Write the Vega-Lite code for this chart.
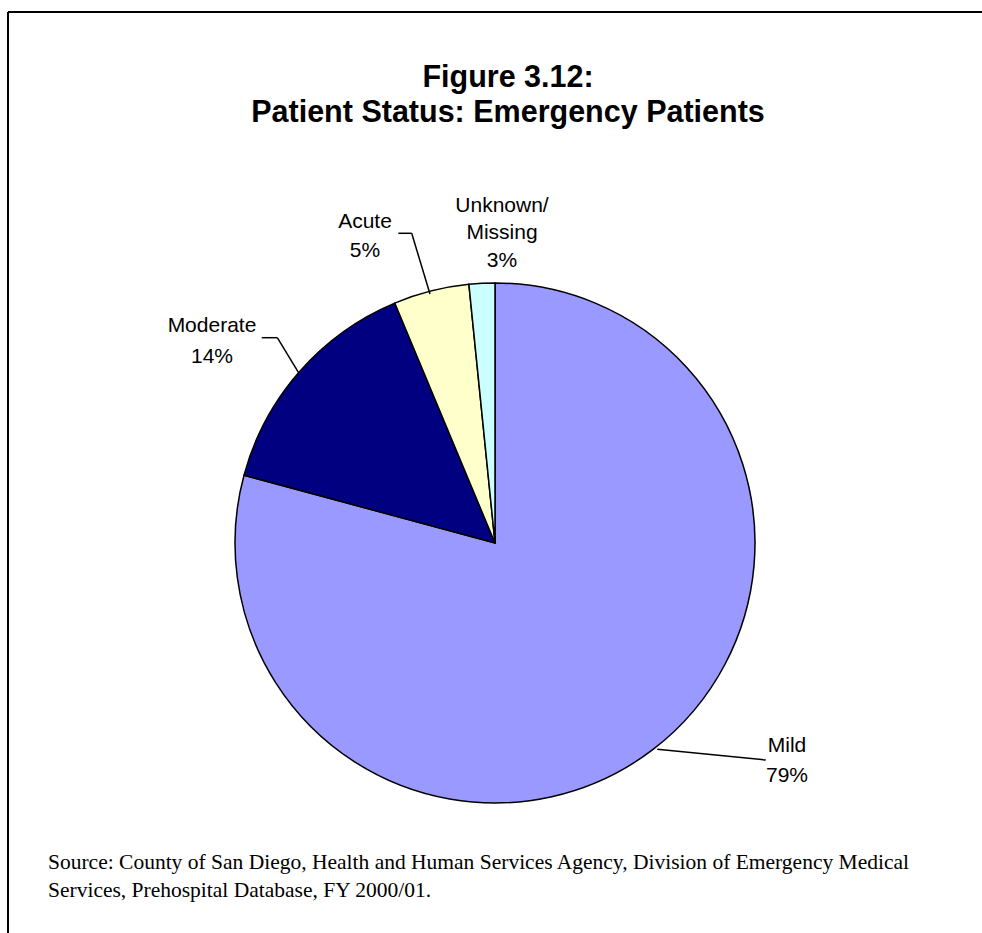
{
  "$schema": "https://vega.github.io/schema/vega-lite/v6.json",
  "width": 974,
  "height": 921,
  "autosize": {"type": "none"},
  "padding": {"left": 8, "top": 12, "right": 0, "bottom": 0},
  "background": "white",
  "view": {"stroke": null},
  "title": {
    "text": ["Figure 3.12:", "Patient Status: Emergency Patients"],
    "font": "Liberation Sans",
    "fontSize": 30.5,
    "fontWeight": "bold",
    "lineHeight": 35,
    "color": "black",
    "anchor": "middle",
    "dx": 13,
    "dy": 121
  },
  "data": {"values": [{}]},
  "datasets": {
    "slices": [
      {"status": "Mild", "value": 79.2, "label": "Mild\n79%"},
      {"status": "Moderate", "value": 14.5, "label": "Moderate\n14%"},
      {"status": "Acute", "value": 4.7, "label": "Acute\n5%"},
      {"status": "Unknown/Missing", "value": 1.6, "label": "Unknown/\nMissing\n3%"}
    ]
  },
  "layer": [
    {
      "data": {"name": "slices"},
      "transform": [
        {"calculate": "indexof(['Mild','Moderate','Acute','Unknown/Missing'], datum.status)", "as": "idx"}
      ],
      "mark": {"type": "arc", "outerRadius": 260, "stroke": "black", "strokeWidth": 1.5},
      "encoding": {
        "x": {"datum": 0, "type": "quantitative", "scale": {"domain": [-1.873077, 1.873077], "nice": false, "zero": false}, "axis": null},
        "y": {"datum": 0, "type": "quantitative", "scale": {"domain": [-1.5, 2.042308], "nice": false, "zero": false}, "axis": null},
        "theta": {"field": "value", "type": "quantitative", "stack": true},
        "order": {"field": "idx", "type": "quantitative"},
        "color": {
          "field": "status",
          "type": "nominal",
          "scale": {"domain": ["Mild", "Moderate", "Acute", "Unknown/Missing"], "range": ["#9999FF", "#000080", "#FFFFCC", "#CCFFFF"]},
          "legend": null
        }
      }
    },
    {
      "mark": {"type": "rule", "color": "black", "strokeWidth": 2},
      "encoding": {"y": {"datum": 2.042308, "type": "quantitative"}}
    },
    {
      "mark": {"type": "rule", "color": "black", "strokeWidth": 2},
      "encoding": {"x": {"datum": -1.873077, "type": "quantitative"}}
    },
    {
      "mark": {"type": "rule", "color": "black", "strokeWidth": 1.5},
      "encoding": {"x": {"datum": 0.6242, "type": "quantitative"}, "y": {"datum": -0.7935, "type": "quantitative"}, "x2": {"datum": 1.0412}, "y2": {"datum": -0.8346}}
    },
    {
      "mark": {"type": "rule", "color": "black", "strokeWidth": 1.5},
      "encoding": {"x": {"datum": -0.7538, "type": "quantitative"}, "y": {"datum": 0.6527, "type": "quantitative"}, "x2": {"datum": -0.8373}, "y2": {"datum": 0.7896}}
    },
    {
      "mark": {"type": "rule", "color": "black", "strokeWidth": 1.5},
      "encoding": {"x": {"datum": -0.8373, "type": "quantitative"}, "y": {"datum": 0.7896, "type": "quantitative"}, "x2": {"datum": -0.8973}, "y2": {"datum": 0.7896}}
    },
    {
      "mark": {"type": "rule", "color": "black", "strokeWidth": 1.5},
      "encoding": {"x": {"datum": -0.25, "type": "quantitative"}, "y": {"datum": 0.9577, "type": "quantitative"}, "x2": {"datum": -0.3204}, "y2": {"datum": 1.1912}}
    },
    {
      "mark": {"type": "rule", "color": "black", "strokeWidth": 1.5},
      "encoding": {"x": {"datum": -0.3204, "type": "quantitative"}, "y": {"datum": 1.1912, "type": "quantitative"}, "x2": {"datum": -0.3719}, "y2": {"datum": 1.1912}}
    },
    {
      "data": {"name": "slices"},
      "transform": [{"filter": "datum.status === 'Mild'"}],
      "mark": {"type": "text", "font": "Liberation Sans", "fontSize": 21, "lineHeight": 30, "lineBreak": "\n", "align": "center", "baseline": "alphabetic", "color": "black"},
      "encoding": {"x": {"datum": 1.1231, "type": "quantitative"}, "y": {"datum": -0.8027, "type": "quantitative"}, "text": {"field": "label"}}
    },
    {
      "data": {"name": "slices"},
      "transform": [{"filter": "datum.status === 'Moderate'"}],
      "mark": {"type": "text", "font": "Liberation Sans", "fontSize": 21, "lineHeight": 31, "lineBreak": "\n", "align": "center", "baseline": "alphabetic", "color": "black"},
      "encoding": {"x": {"datum": -1.0885, "type": "quantitative"}, "y": {"datum": 0.8127, "type": "quantitative"}, "text": {"field": "label"}}
    },
    {
      "data": {"name": "slices"},
      "transform": [{"filter": "datum.status === 'Acute'"}],
      "mark": {"type": "text", "font": "Liberation Sans", "fontSize": 21, "lineHeight": 28.5, "lineBreak": "\n", "align": "center", "baseline": "alphabetic", "color": "black"},
      "encoding": {"x": {"datum": -0.5, "type": "quantitative"}, "y": {"datum": 1.2104, "type": "quantitative"}, "text": {"field": "label"}}
    },
    {
      "data": {"name": "slices"},
      "transform": [{"filter": "datum.status === 'Unknown/Missing'"}],
      "mark": {"type": "text", "font": "Liberation Sans", "fontSize": 21, "lineHeight": 27.5, "lineBreak": "\n", "align": "center", "baseline": "alphabetic", "color": "black"},
      "encoding": {"x": {"datum": 0.0269, "type": "quantitative"}, "y": {"datum": 1.2742, "type": "quantitative"}, "text": {"field": "label"}}
    },
    {
      "mark": {"type": "text", "font": "Liberation Serif", "fontSize": 21.5, "lineHeight": 28, "align": "left", "baseline": "alphabetic", "color": "black"},
      "encoding": {
        "x": {"datum": -1.7192, "type": "quantitative"},
        "y": {"datum": -1.2538, "type": "quantitative"},
        "text": {"value": ["Source: County of San Diego, Health and Human Services Agency, Division of Emergency Medical", "Services, Prehospital Database, FY 2000/01."]}
      }
    }
  ]
}
